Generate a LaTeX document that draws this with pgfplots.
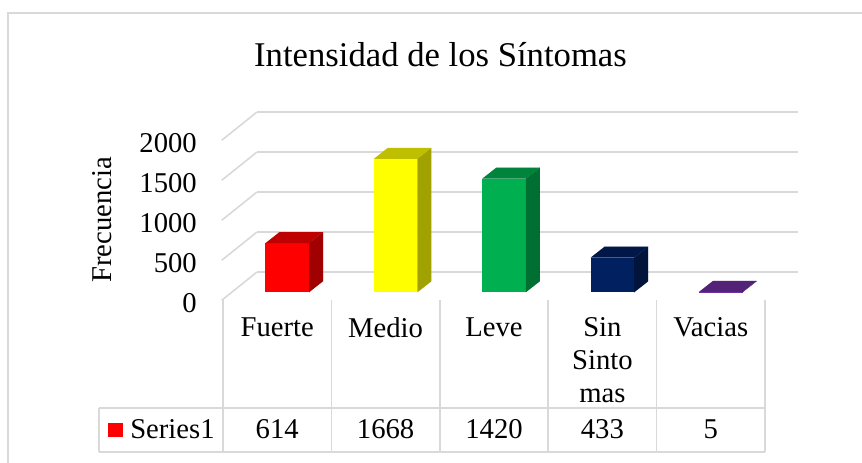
\documentclass[border=0pt]{standalone}
\usepackage{fontspec}
\setmainfont{Liberation Serif}
\usepackage{pgfplots}
\usepackage{pgfplotstable}
\pgfplotsset{compat=1.18}
\definecolor{gridgray}{HTML}{D9D9D9}
\definecolor{bar0}{HTML}{FF0000}
\definecolor{bar1}{HTML}{FFFF00}
\definecolor{bar2}{HTML}{00B050}
\definecolor{bar3}{HTML}{002060}
\definecolor{bar4}{HTML}{7030A0}
\newcommand{\lbl}{\fontsize{21.5}{24.75}\selectfont}

\pgfplotstableread{
idx val
0 614
1 1668
2 1420
3 433
4 5
}\sintomas

% top and side faces of a 3d column, drawn at the top of the bar
\newcommand{\topface}{%
  \pgfpathmoveto{\pgfqpoint{-16.35pt}{0pt}}%
  \pgfpathlineto{\pgfqpoint{16.35pt}{0pt}}%
  \pgfpathlineto{\pgfqpoint{26.85pt}{8.25pt}}%
  \pgfpathlineto{\pgfqpoint{-5.85pt}{8.25pt}}%
  \pgfpathclose}
\newcommand{\sideface}{%
  \pgfpathmoveto{\pgfqpoint{16.35pt}{0pt}}%
  \pgfpathlineto{\pgfqpoint{26.85pt}{8.25pt}}%
  \pgfpathlineto{\pgfpoint{26.85pt}{8.25pt-\bh pt}}%
  \pgfpathlineto{\pgfpoint{16.35pt}{-\bh pt}}%
  \pgfpathclose}
\pgfdeclareplotmark{box3d}{%
  \pgfmathparse{\rawy*0.06}\let\bh\pgfmathresult
  \topface\pgfusepathqfill
  \begin{pgfscope}\pgfsetfillcolor{black}\pgfsetfillopacity{0.25}\topface\pgfusepathqfill\end{pgfscope}%
  \sideface\pgfusepathqfill
  \begin{pgfscope}\pgfsetfillcolor{black}\pgfsetfillopacity{0.37}\sideface\pgfusepathqfill\end{pgfscope}%
}

\begin{document}
\begin{tikzpicture}[x=0.75pt,y=0.75pt]
\useasboundingbox (0,0) rectangle (862,462);
% chart frame
\draw[gridgray, line width=1.1pt] (8,-20) -- (8,449) -- (880,449);
\node[anchor=base, font=\fontsize{26}{30}\selectfont] at (440.5,396) {Intensidad de los Síntomas};
\node[rotate=90, font=\lbl] at (102,242) {Frecuencia};

% back wall grid
\begin{axis}[
  at={(192.53pt,142.28pt)}, anchor=south west,
  scale only axis, width=405.98pt, height=120pt,
  xmin=0, xmax=1, ymin=0, ymax=2000,
  axis line style={draw=none}, major tick style={draw=none},
  xtick=\empty, ytick={0,500,...,2000}, yticklabel=\empty,
  ymajorgrids, grid style={gridgray, line width=1.2pt},
  clip=false,
]
\pgfplotsinvokeforeach{0,500,1000,1500,2000}{
  \draw[gridgray, line width=1.2pt] (axis cs:0,#1) -- ++(-26.25pt,-21pt);
}
\end{axis}

% front plane: tick labels
\begin{axis}[
  at={(166.28pt,121.5pt)}, anchor=south west,
  scale only axis, width=10pt, height=120pt,
  xmin=0, xmax=1, ymin=0, ymax=2000,
  axis line style={draw=none}, major tick style={draw=none}, major tick length=0pt,
  xtick=\empty, ytick={0,500,...,2000},
  scaled y ticks=false,
  /pgf/number format/assume math mode=true,
  /pgf/number format/1000 sep={},
  yticklabel style={font=\lbl, anchor=east, inner sep=0pt, xshift=-18.5pt, yshift=-2.25pt},
]
\end{axis}

% data table lines
\foreach \x in {223,331.4,439.8,548.2,656.6,765}{
  \draw[gridgray, line width=1.1pt] (\x,162) -- (\x,10);
}
\draw[gridgray, line width=1.1pt] (99,54) -- (765,54);
\draw[gridgray, line width=1.1pt] (99,10) -- (765,10);
\draw[gridgray, line width=1.1pt] (99,54) -- (99,10);
\fill[bar0] (108,25.3) rectangle (122.6,39);
\node[anchor=base west, inner sep=0pt, font=\lbl] at (130,23.7) {Series1};

% columns
\begin{axis}[
  at={(174.75pt,127.28pt)}, anchor=south west,
  scale only axis, width=406.5pt, height=120pt,
  xmin=-0.5, xmax=4.5, ymin=0, ymax=2000,
  clip=false,
  axis line style={draw=none}, major tick style={draw=none}, major tick length=0pt,
  ytick=\empty,
  xtick={0,...,4},
  xticklabels={Fuerte,Medio,Leve,{Sin\\Sinto\\mas},Vacias},
  xticklabel style={font=\lbl, align=center, inner sep=0pt, anchor=north, xshift=-7.5pt, yshift=-18.5pt},
  /pgf/number format/assume math mode=true,
  /pgf/number format/1000 sep={},
]
\pgfplotsinvokeforeach{0,...,4}{
  \addplot[ybar, bar width=32.7pt, bar shift=0pt, fill=bar#1, draw=none,
    restrict x to domain=#1:#1] table[x=idx, y=val] {\sintomas};
  \addplot[only marks, mark=box3d, mark options={fill=bar#1, draw=none},
    visualization depends on={rawy \as \rawy},
    restrict x to domain=#1:#1] table[x=idx, y=val] {\sintomas};
}
% values row of the data table
\addplot[draw=none, mark=none, nodes near coords, point meta=explicit,
  nodes near coords style={font=\lbl, anchor=base, inner sep=0pt, xshift=-7.5pt, yshift=-109.5pt}]
  table[x=idx, y expr=0, meta=val] {\sintomas};
\end{axis}
\end{tikzpicture}
\end{document}
